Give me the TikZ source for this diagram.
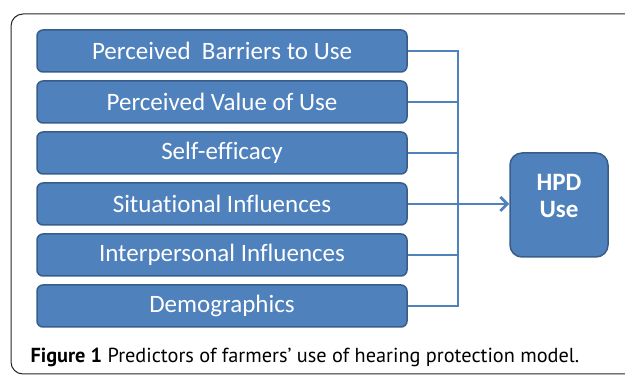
\documentclass[tikz,border=0pt]{standalone}
\usepackage{fontspec}
\setmainfont{Carlito}[Ligatures=NoCommon]
\newfontfamily\capfont{PT Sans}
\usetikzlibrary{arrows.meta}

\definecolor{boxblue}{HTML}{4F81BD}
\definecolor{boxedge}{HTML}{385D8A}

\tikzset{
  factor/.style={draw=boxedge, fill=boxblue, line width=1.5pt, rounded corners=6pt,
    minimum width=370pt, minimum height=42pt, inner sep=0pt, text=white,
    font=\fontsize{25}{30}\selectfont},
  outcome/.style={draw=boxedge, fill=boxblue, line width=1.5pt, rounded corners=12pt,
    minimum width=98pt, minimum height=104pt, inner sep=0pt, text=white, align=center,
    font=\fontsize{25}{27}\selectfont\bfseries, text depth=18pt},
  link/.style={draw=boxblue, line width=2.8pt}
}

\begin{document}
\begin{tikzpicture}[x=1pt,y=1pt]
  \useasboundingbox (0,0) rectangle (625,375);
  \draw[line width=1pt, draw=black!85, rounded corners=12pt] (11,1) rectangle (660,361);

  \foreach \name/\txt [count=\i] in {barriers/{Perceived\ \ Barriers to Use},
      value/{Perceived Value of Use}, efficacy/{Self-efficacy},
      situational/{Situational Influences}, interpersonal/{Interpersonal Influences},
      demographics/{Demographics}} {
    \node[factor] (\name) at (222,375-51*\i) {\txt};
  }

  \node[outcome] (hpd) at (559,170) {HPD\\Use};

  \coordinate (bus) at (458,0);
  \draw[link] (barriers.east) -- (barriers.east -| bus) -- (demographics.east -| bus) -- (demographics.east);
  \foreach \name in {value,efficacy,interpersonal}
    \draw[link] (\name.east) -- (\name.east -| bus);
  \draw[link, -{Straight Barb[length=7pt,width=14pt]}] (situational.east) -- (situational.east -| hpd.west);

  \node[anchor=base west, font=\capfont\fontsize{20.3}{24}\selectfont] (caption) at (27,12)
    {\textbf{Figure 1} Predictors of farmers’ use of hearing protection model.};
\end{tikzpicture}
\end{document}
